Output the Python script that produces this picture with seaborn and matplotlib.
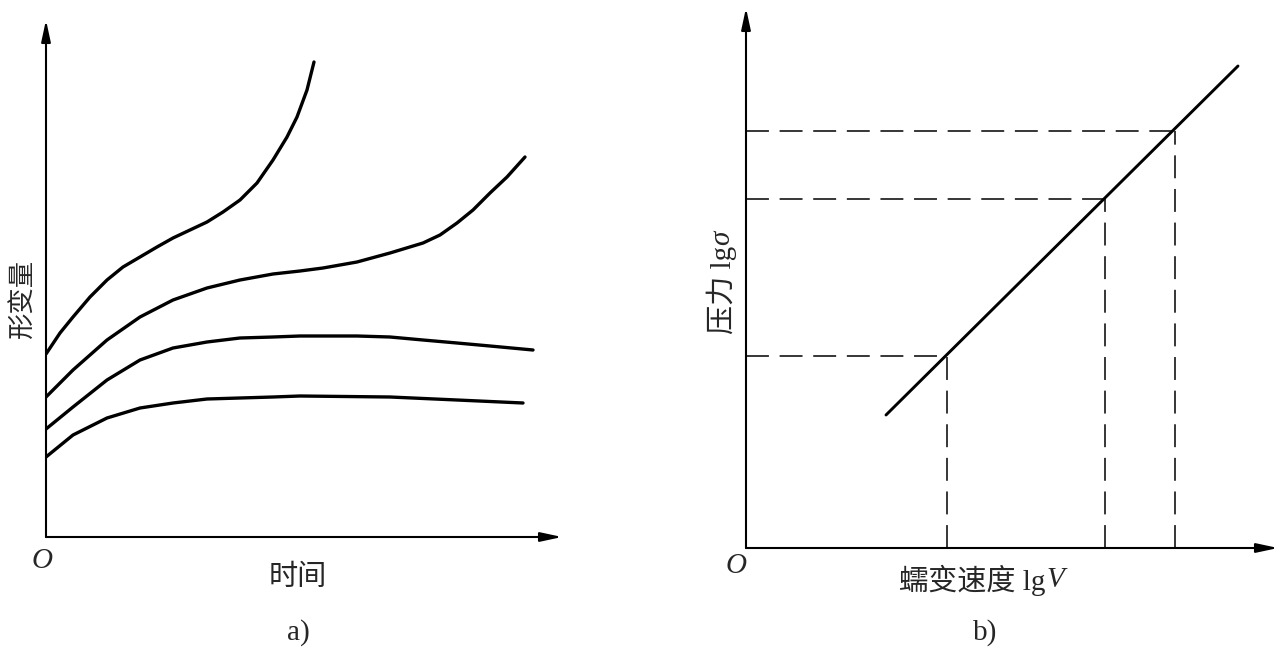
import numpy as np
import pandas as pd
import matplotlib.pyplot as plt
import seaborn as sns

# a) creep curves: time vs deformation (arbitrary units read off the figure)
time_1 = [0, 0.14, 0.27, 0.44, 0.61, 0.77, 0.94, 1.11, 1.27, 1.44, 1.61, 1.77, 1.94,
          2.11, 2.27, 2.41, 2.51, 2.61, 2.68]
strain_1 = [1.83, 2.04, 2.20, 2.40, 2.57, 2.70, 2.80, 2.90, 2.99, 3.07, 3.15, 3.25, 3.37,
            3.54, 3.77, 4.00, 4.20, 4.47, 4.75]
time_2 = [0, 0.27, 0.61, 0.94, 1.27, 1.61, 1.94, 2.27, 2.54, 2.77, 3.11, 3.44, 3.77,
          3.94, 4.11, 4.27, 4.44, 4.61, 4.79]
strain_2 = [1.40, 1.67, 1.97, 2.20, 2.37, 2.49, 2.57, 2.63, 2.66, 2.69, 2.75, 2.84, 2.94,
            3.02, 3.14, 3.27, 3.44, 3.60, 3.80]
time_3 = [0, 0.27, 0.61, 0.94, 1.27, 1.61, 1.94, 2.27, 2.54, 3.11, 3.44, 3.77, 4.11, 4.44, 4.87]
strain_3 = [1.08, 1.30, 1.57, 1.77, 1.89, 1.95, 1.99, 2.00, 2.01, 2.01, 2.00, 1.97, 1.94, 1.91, 1.87]
time_4 = [0, 0.27, 0.61, 0.94, 1.27, 1.61, 1.94, 2.27, 2.54, 3.44, 4.11, 4.77]
strain_4 = [0.80, 1.02, 1.19, 1.29, 1.34, 1.38, 1.39, 1.40, 1.41, 1.40, 1.37, 1.34]

# b) lg(stress) vs lg(creep rate)
lgV_line = [1.40, 4.92]
lgs_line = [1.33, 4.82]
lgV_marks = [2.01, 3.59, 4.29]
lgs_marks = [1.92, 3.49, 4.17]

sns.set_style('white')
plt.rcParams['font.family'] = ['Liberation Serif', 'Noto Sans CJK SC']

W, H = 1281, 647
fig = plt.figure(figsize=(W / 100, H / 100), dpi=100)


def px_axes(x0, y0, x1, y1):
    # axes box given in pixel coords of the picture (y from top)
    return fig.add_axes([x0 / W, 1 - y1 / H, (x1 - x0) / W, (y1 - y0) / H])


def arrow_axes(ax):
    for s in ax.spines.values():
        s.set_visible(False)
    ax.set_xticks([])
    ax.set_yticks([])
    ax.set_xlabel('')
    ax.set_ylabel('')
    st = '-|>,head_length=1.3,head_width=0.28'
    ax.annotate('', xy=(0, 1), xytext=(0, 0), xycoords='axes fraction',
                arrowprops=dict(arrowstyle=st, lw=1.5, color='k', shrinkA=0, shrinkB=0))
    ax.annotate('', xy=(1, 0), xytext=(0, 0), xycoords='axes fraction',
                arrowprops=dict(arrowstyle=st, lw=1.5, color='k', shrinkA=0, shrinkB=0))


# ---- panel a
curves = pd.concat([
    pd.DataFrame({'time': t, 'strain': s, 'curve': i})
    for i, (t, s) in enumerate([(time_1, strain_1), (time_2, strain_2),
                                (time_3, strain_3), (time_4, strain_4)])
])
ax1 = px_axes(46, 20, 562, 537)
sns.lineplot(data=curves, x='time', y='strain', units='curve', estimator=None,
             sort=False, color='k', lw=2.4, ax=ax1)
for ln in ax1.lines:
    ln.set_solid_joinstyle('round')
ax1.set_xlim(0, 5.16)
ax1.set_ylim(0, 5.17)
arrow_axes(ax1)

# ---- panel b
ax2 = px_axes(746, 8, 1278, 548)
sns.lineplot(x=lgV_line, y=lgs_line, color='k', lw=2.1, ax=ax2)
dash = (0, (15, 7))
ax2.hlines(lgs_marks, 0, lgV_marks, colors='k', lw=1.1, linestyles=[dash])
ax2.vlines(lgV_marks, 0, lgs_marks, colors='k', lw=1.1, linestyles=[dash])
ax2.set_xlim(0, 5.32)
ax2.set_ylim(0, 5.40)
arrow_axes(ax2)


def ftext(x, y, s, **kw):
    return fig.text(x / W, 1 - y / H, s, ha='center', va='center', **kw)


fs = 21
ftext(22, 298, '形变量', fontsize=19, rotation=90)
ftext(298, 578, '时间', fontsize=fs)
ftext(42, 561, 'O', fontsize=fs, style='italic')
ftext(298, 633, 'a)', fontsize=fs)

ftext(736, 566, 'O', fontsize=fs, style='italic')
ftext(985, 633, 'b)', fontsize=fs)

# labels with italic symbol appended after the upright part
fig.canvas.draw()
r = fig.canvas.get_renderer()
t = ftext(972, 580, '蠕变速度 lg', fontsize=fs)
fig.canvas.draw()
bb = t.get_window_extent(r)
fig.text(bb.x1 / W + 0.001, 1 - 580 / H, 'V', fontsize=fs, style='italic', va='center', ha='left')

t2 = ftext(722, 290, '压力 lg', fontsize=fs, rotation=90)
fig.canvas.draw()
bb2 = t2.get_window_extent(r)
fig.text(722 / W, bb2.y1 / H + 0.001, 'σ', fontsize=fs, style='italic', rotation=90,
         va='bottom', ha='center')

fig.savefig('out.png', dpi=100, facecolor='white')
